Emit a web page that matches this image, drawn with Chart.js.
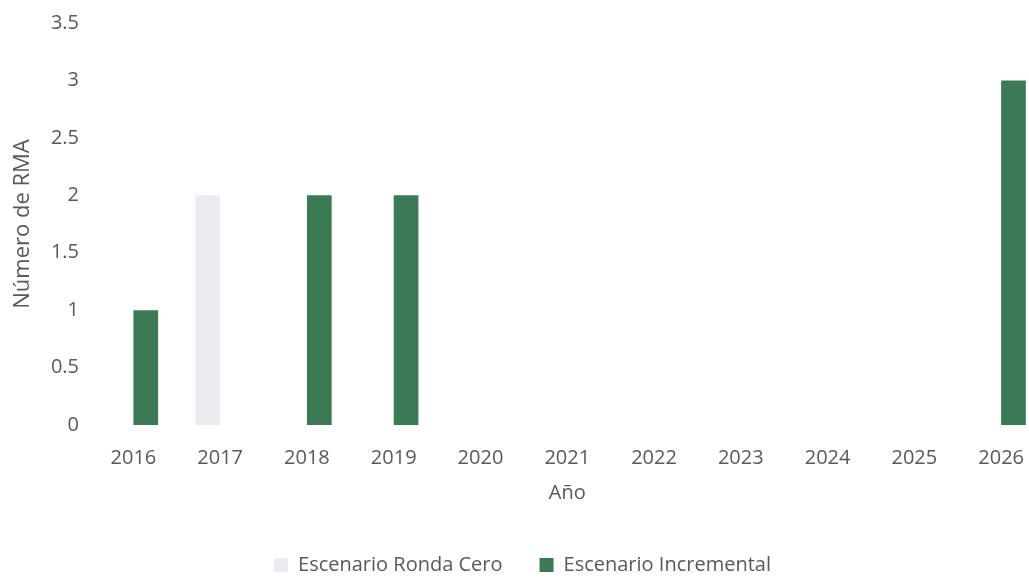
<!DOCTYPE html>
<html lang="es">
<head>
  <meta charset="UTF-8" />
  <title>Número de RMA por año</title>
  <script src="https://cdn.jsdelivr.net/npm/chart.js"></script>
  <style>
    html, body {
      margin: 0;
      padding: 0;
      background: #fff;
      overflow: hidden;
    }
    /* el grafico original esta recortado a la derecha y abajo */
    #wrap {
      width: 1045px;
      height: 585px;
    }
  </style>
</head>
<body>
  <div id="wrap"><canvas id="grafico"></canvas></div>

  <script>
    const anios = ["2016", "2017", "2018", "2019", "2020", "2021", "2022", "2023", "2024", "2025", "2026"];
    const rondaCero = [0, 2, 0, 0, 0, 0, 0, 0, 0, 0, 0];
    const incremental = [1, 0, 2, 2, 0, 0, 0, 0, 0, 0, 3];

    const gris = "#595959";
    const fuente = "'Open Sans', sans-serif";

    new Chart(document.getElementById("grafico"), {
      type: "bar",
      data: {
        labels: anios,
        datasets: [
          {
            label: "Escenario Ronda Cero",
            data: rondaCero,
            backgroundColor: "#ebebf1"
          },
          {
            label: "Escenario Incremental",
            data: incremental,
            backgroundColor: "#3c7a55"
          }
        ]
      },
      options: {
        responsive: true,
        maintainAspectRatio: false,
        animation: false,
        categoryPercentage: 0.57,
        barPercentage: 1.0,
        layout: { padding: { top: 10, right: 0, bottom: 0, left: 0 } },
        plugins: {
          tooltip: { enabled: false },
          legend: {
            position: "bottom",
            labels: {
              color: gris,
              font: { family: fuente, size: 20 },
              boxWidth: 14,
              boxHeight: 14,
              padding: 37
            }
          }
        },
        scales: {
          x: {
            grid: { display: false, drawTicks: false },
            border: { display: false },
            ticks: { color: gris, font: { family: fuente, size: 20 }, padding: 21, maxRotation: 0 },
            title: {
              display: true,
              text: "Año",
              color: gris,
              font: { family: fuente, size: 20 },
              padding: { top: 10, bottom: 13 }
            },
            afterFit: s => { s.height = 93; }
          },
          y: {
            min: 0,
            max: 3.5,
            grid: { display: false, drawTicks: false },
            border: { display: false },
            ticks: {
              stepSize: 0.5,
              color: gris,
              font: { family: fuente, size: 20 },
              padding: 11,
              callback: v => String(v)
            },
            title: {
              display: true,
              text: "Número de RMA",
              color: gris,
              font: { family: fuente, size: 22 },
              padding: { top: 10, bottom: 0 }
            },
            afterFit: s => { s.width = 90; }
          }
        }
      }
    });
  </script>
</body>
</html>
